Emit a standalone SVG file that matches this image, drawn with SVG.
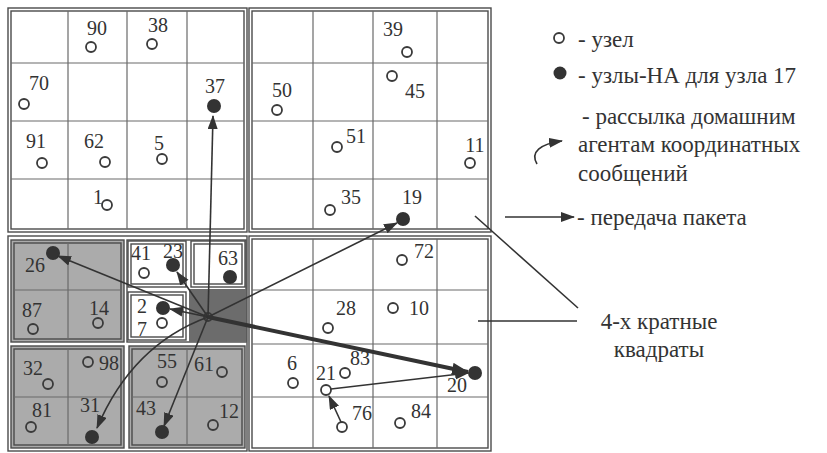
<svg xmlns="http://www.w3.org/2000/svg" width="827" height="453" viewBox="0 0 827 453">
<style>
.fr{fill:none;stroke:#4a4a4a;stroke-width:1.4}
.g{fill:none;stroke:#6a6a6a;stroke-width:1.2}
.gray{fill:#ababab}
.dark{fill:#6c6c6c}
.wh{fill:#fff}
.n{fill:none;stroke:#3a3a3a;stroke-width:1.8}
.ha{fill:#333}
.l{font-size:20px;fill:#333;text-anchor:middle}
.lg{font-size:23px;fill:#333}
.c{fill:none;stroke:#333;stroke-width:1.6}
.ct{fill:none;stroke:#333;stroke-width:4}
</style>
<defs>
<marker id="ah" markerUnits="userSpaceOnUse" markerWidth="16" markerHeight="12" refX="13" refY="5" orient="auto"><path d="M0,0 L14,5 L0,10 Z" fill="#333"/></marker>
<marker id="ahb" markerUnits="userSpaceOnUse" markerWidth="20" markerHeight="16" refX="16" refY="6" orient="auto"><path d="M0,0 L17,6 L0,12 Z" fill="#333"/></marker>
</defs>
<rect width="827" height="453" fill="#fff"/>
<g id="grid">
<rect class="fr" x="8" y="8" width="239" height="224"/>
<rect class="fr" x="11" y="11" width="233" height="218"/>
<path class="g" d="M68,11V229M127,11V229M187,11V229M11,63H244M11,121H244M11,179H244"/>
<rect class="fr" x="249" y="8" width="242" height="224"/>
<rect class="fr" x="252" y="11" width="236" height="218"/>
<path class="g" d="M313,11V229M373,11V229M437,11V229M252,63H488M252,121H488M252,179H488"/>
<rect class="fr" x="249" y="236" width="242" height="215"/>
<rect class="fr" x="252" y="239" width="236" height="209"/>
<path class="g" d="M313,239V448M373,239V448M437,239V448M252,290H488M252,344H488M252,397H488"/>
<rect class="fr" x="8" y="236" width="239" height="215"/>
<rect class="gray" x="11" y="240" width="113" height="102"/>
<rect class="fr" x="11" y="240" width="113" height="102"/>
<rect class="fr" x="14" y="243" width="107" height="96"/>
<path class="g" d="M68,243V339M14,290H121"/>
<rect class="gray" x="11" y="346" width="113" height="102"/>
<rect class="fr" x="11" y="346" width="113" height="102"/>
<rect class="fr" x="14" y="349" width="107" height="96"/>
<path class="g" d="M68,349V445M14,397H121"/>
<rect class="gray" x="129" y="346" width="116" height="102"/>
<rect class="fr" x="129" y="346" width="116" height="102"/>
<rect class="fr" x="132" y="349" width="110" height="96"/>
<path class="g" d="M187,349V445M132,397H242"/>
<rect class="fr" x="127" y="240" width="119" height="102"/>
<rect class="wh" x="128" y="241" width="58" height="46"/>
<rect class="fr" x="128" y="241" width="58" height="46"/>
<rect class="fr" x="131" y="244" width="52" height="40"/>
<rect class="wh" x="191" y="241" width="54" height="46"/>
<rect class="fr" x="191" y="241" width="54" height="46"/>
<rect class="fr" x="194" y="244" width="48" height="40"/>
<rect class="fr" x="128" y="292" width="58" height="48"/>
<rect class="fr" x="131" y="295" width="52" height="42"/>
<rect class="dark" x="189" y="289" width="57" height="53"/>
</g>
<g id="nodes" font-family="Liberation Serif, Times New Roman, Times, DejaVu Serif, serif">
<g id="n90"><circle class="n" cx="91" cy="47" r="5"/><text class="l" x="97" y="35">90</text></g>
<g id="n38"><circle class="n" cx="152" cy="44" r="5"/><text class="l" x="158" y="32">38</text></g>
<g id="n70"><circle class="n" cx="24" cy="104" r="5"/><text class="l" x="39" y="90">70</text></g>
<g id="n37"><circle class="ha" cx="214" cy="106" r="7"/><text class="l" x="215" y="93">37</text></g>
<g id="n91"><circle class="n" cx="42" cy="163" r="5"/><text class="l" x="36" y="148">91</text></g>
<g id="n62"><circle class="n" cx="105" cy="162" r="5"/><text class="l" x="94" y="148">62</text></g>
<g id="n5"><circle class="n" cx="162" cy="159" r="5"/><text class="l" x="159" y="150">5</text></g>
<g id="n1"><circle class="n" cx="107" cy="205" r="5"/><text class="l" x="98" y="204">1</text></g>
<g id="n39"><circle class="n" cx="407" cy="52" r="5"/><text class="l" x="393" y="36">39</text></g>
<g id="n45"><circle class="n" cx="392" cy="76" r="5"/><text class="l" x="415" y="98">45</text></g>
<g id="n50"><circle class="n" cx="277" cy="110" r="5"/><text class="l" x="282" y="97">50</text></g>
<g id="n51"><circle class="n" cx="337" cy="147" r="5"/><text class="l" x="356" y="143">51</text></g>
<g id="n11"><circle class="n" cx="470" cy="163" r="5"/><text class="l" x="475" y="152">11</text></g>
<g id="n35"><circle class="n" cx="330" cy="210" r="5"/><text class="l" x="351" y="204">35</text></g>
<g id="n19"><circle class="ha" cx="403" cy="219" r="7"/><text class="l" x="412" y="204">19</text></g>
<g id="n26"><circle class="ha" cx="53" cy="253" r="7"/><text class="l" x="35" y="272">26</text></g>
<g id="n87"><circle class="n" cx="33" cy="329" r="5"/><text class="l" x="32" y="317">87</text></g>
<g id="n14"><circle class="n" cx="98" cy="323" r="5"/><text class="l" x="99" y="315">14</text></g>
<g id="n41"><circle class="n" cx="144" cy="273" r="5"/><text class="l" x="141" y="260">41</text></g>
<g id="n23"><circle class="ha" cx="173" cy="265" r="7"/><text class="l" x="173" y="258">23</text></g>
<g id="n63"><circle class="ha" cx="230" cy="277" r="7"/><text class="l" x="228" y="265">63</text></g>
<g id="n2"><circle class="ha" cx="163" cy="308" r="7"/><text class="l" x="142" y="313">2</text></g>
<g id="n7"><circle class="n" cx="162" cy="323" r="5"/><text class="l" x="142" y="336">7</text></g>
<g id="n17"><circle class="n" cx="208" cy="317" r="4"/></g>
<g id="n32"><circle class="n" cx="48" cy="384" r="5"/><text class="l" x="33" y="375">32</text></g>
<g id="n98"><circle class="n" cx="88" cy="362" r="5"/><text class="l" x="109" y="370">98</text></g>
<g id="n55"><circle class="n" cx="162" cy="382" r="5"/><text class="l" x="167" y="368">55</text></g>
<g id="n61"><circle class="n" cx="222" cy="372" r="5"/><text class="l" x="204" y="371">61</text></g>
<g id="n81"><circle class="n" cx="31" cy="427" r="5"/><text class="l" x="42" y="417">81</text></g>
<g id="n31"><circle class="ha" cx="92" cy="437" r="7"/><text class="l" x="90" y="412">31</text></g>
<g id="n43"><circle class="ha" cx="162" cy="432" r="7"/><text class="l" x="146" y="415">43</text></g>
<g id="n12"><circle class="n" cx="213" cy="425" r="5"/><text class="l" x="229" y="418">12</text></g>
<g id="n72"><circle class="n" cx="402" cy="260" r="5"/><text class="l" x="424" y="258">72</text></g>
<g id="n28"><circle class="n" cx="328" cy="328" r="5"/><text class="l" x="346" y="315">28</text></g>
<g id="n10"><circle class="n" cx="393" cy="308" r="5"/><text class="l" x="419" y="315">10</text></g>
<g id="n6"><circle class="n" cx="293" cy="383" r="5"/><text class="l" x="292" y="370">6</text></g>
<g id="n83"><circle class="n" cx="345" cy="373" r="5"/><text class="l" x="360" y="365">83</text></g>
<g id="n21"><circle class="n" cx="326" cy="390" r="5"/><text class="l" x="326" y="380">21</text></g>
<g id="n20"><circle class="ha" cx="475" cy="373" r="7"/><text class="l" x="457" y="392">20</text></g>
<g id="n76"><circle class="n" cx="342" cy="427" r="5"/><text class="l" x="362" y="420">76</text></g>
<g id="n84"><circle class="n" cx="400" cy="423" r="5"/><text class="l" x="421" y="418">84</text></g>
</g>
<g id="connectors">
<path class="c" marker-end="url(#ah)" d="M208,317 L213,116"/>
<path class="c" marker-end="url(#ah)" d="M208,317 L397,223"/>
<path class="c" marker-end="url(#ah)" d="M208,317 L58,256"/>
<path class="c" marker-end="url(#ah)" d="M208,317 L177,272"/>
<path class="c" marker-end="url(#ah)" d="M208,317 L170,309"/>
<path class="c" marker-end="url(#ah)" d="M208,317 Q132,345 97,428"/>
<path class="c" marker-end="url(#ah)" d="M208,317 L164,426"/>
<path class="ct" marker-end="url(#ahb)" d="M208,317 L468,372"/>
<path class="c" marker-end="url(#ah)" d="M331,389 L468,373"/>
<path class="c" marker-end="url(#ah)" d="M341,422 L329,396"/>
<path class="c" d="M475,216 L578,308"/>
<path class="c" d="M478,321 L577,321"/>
</g>
<g id="legend" font-family="Liberation Serif, Times New Roman, Times, DejaVu Serif, serif">
<circle class="n" cx="559" cy="38" r="5"/>
<text class="lg" x="578" y="47">- узел</text>
<circle class="ha" cx="560" cy="73" r="6.5"/>
<text class="lg" x="578" y="83">- узлы-НА для узла 17</text>
<text class="lg" x="582" y="124">- рассылка домашним</text>
<text class="lg" x="578" y="152">агентам координатных</text>
<text class="lg" x="578" y="181">сообщений</text>
<path class="c" marker-end="url(#ah)" d="M537,164 C530,152 540,144 562,141"/>
<path class="c" marker-end="url(#ah)" d="M505,217 L574,217"/>
<text class="lg" x="577" y="225">- передача пакета</text>
<text class="lg" x="659" y="329" text-anchor="middle">4-х кратные</text>
<text class="lg" x="659" y="357" text-anchor="middle">квадраты</text>
</g>
</svg>
